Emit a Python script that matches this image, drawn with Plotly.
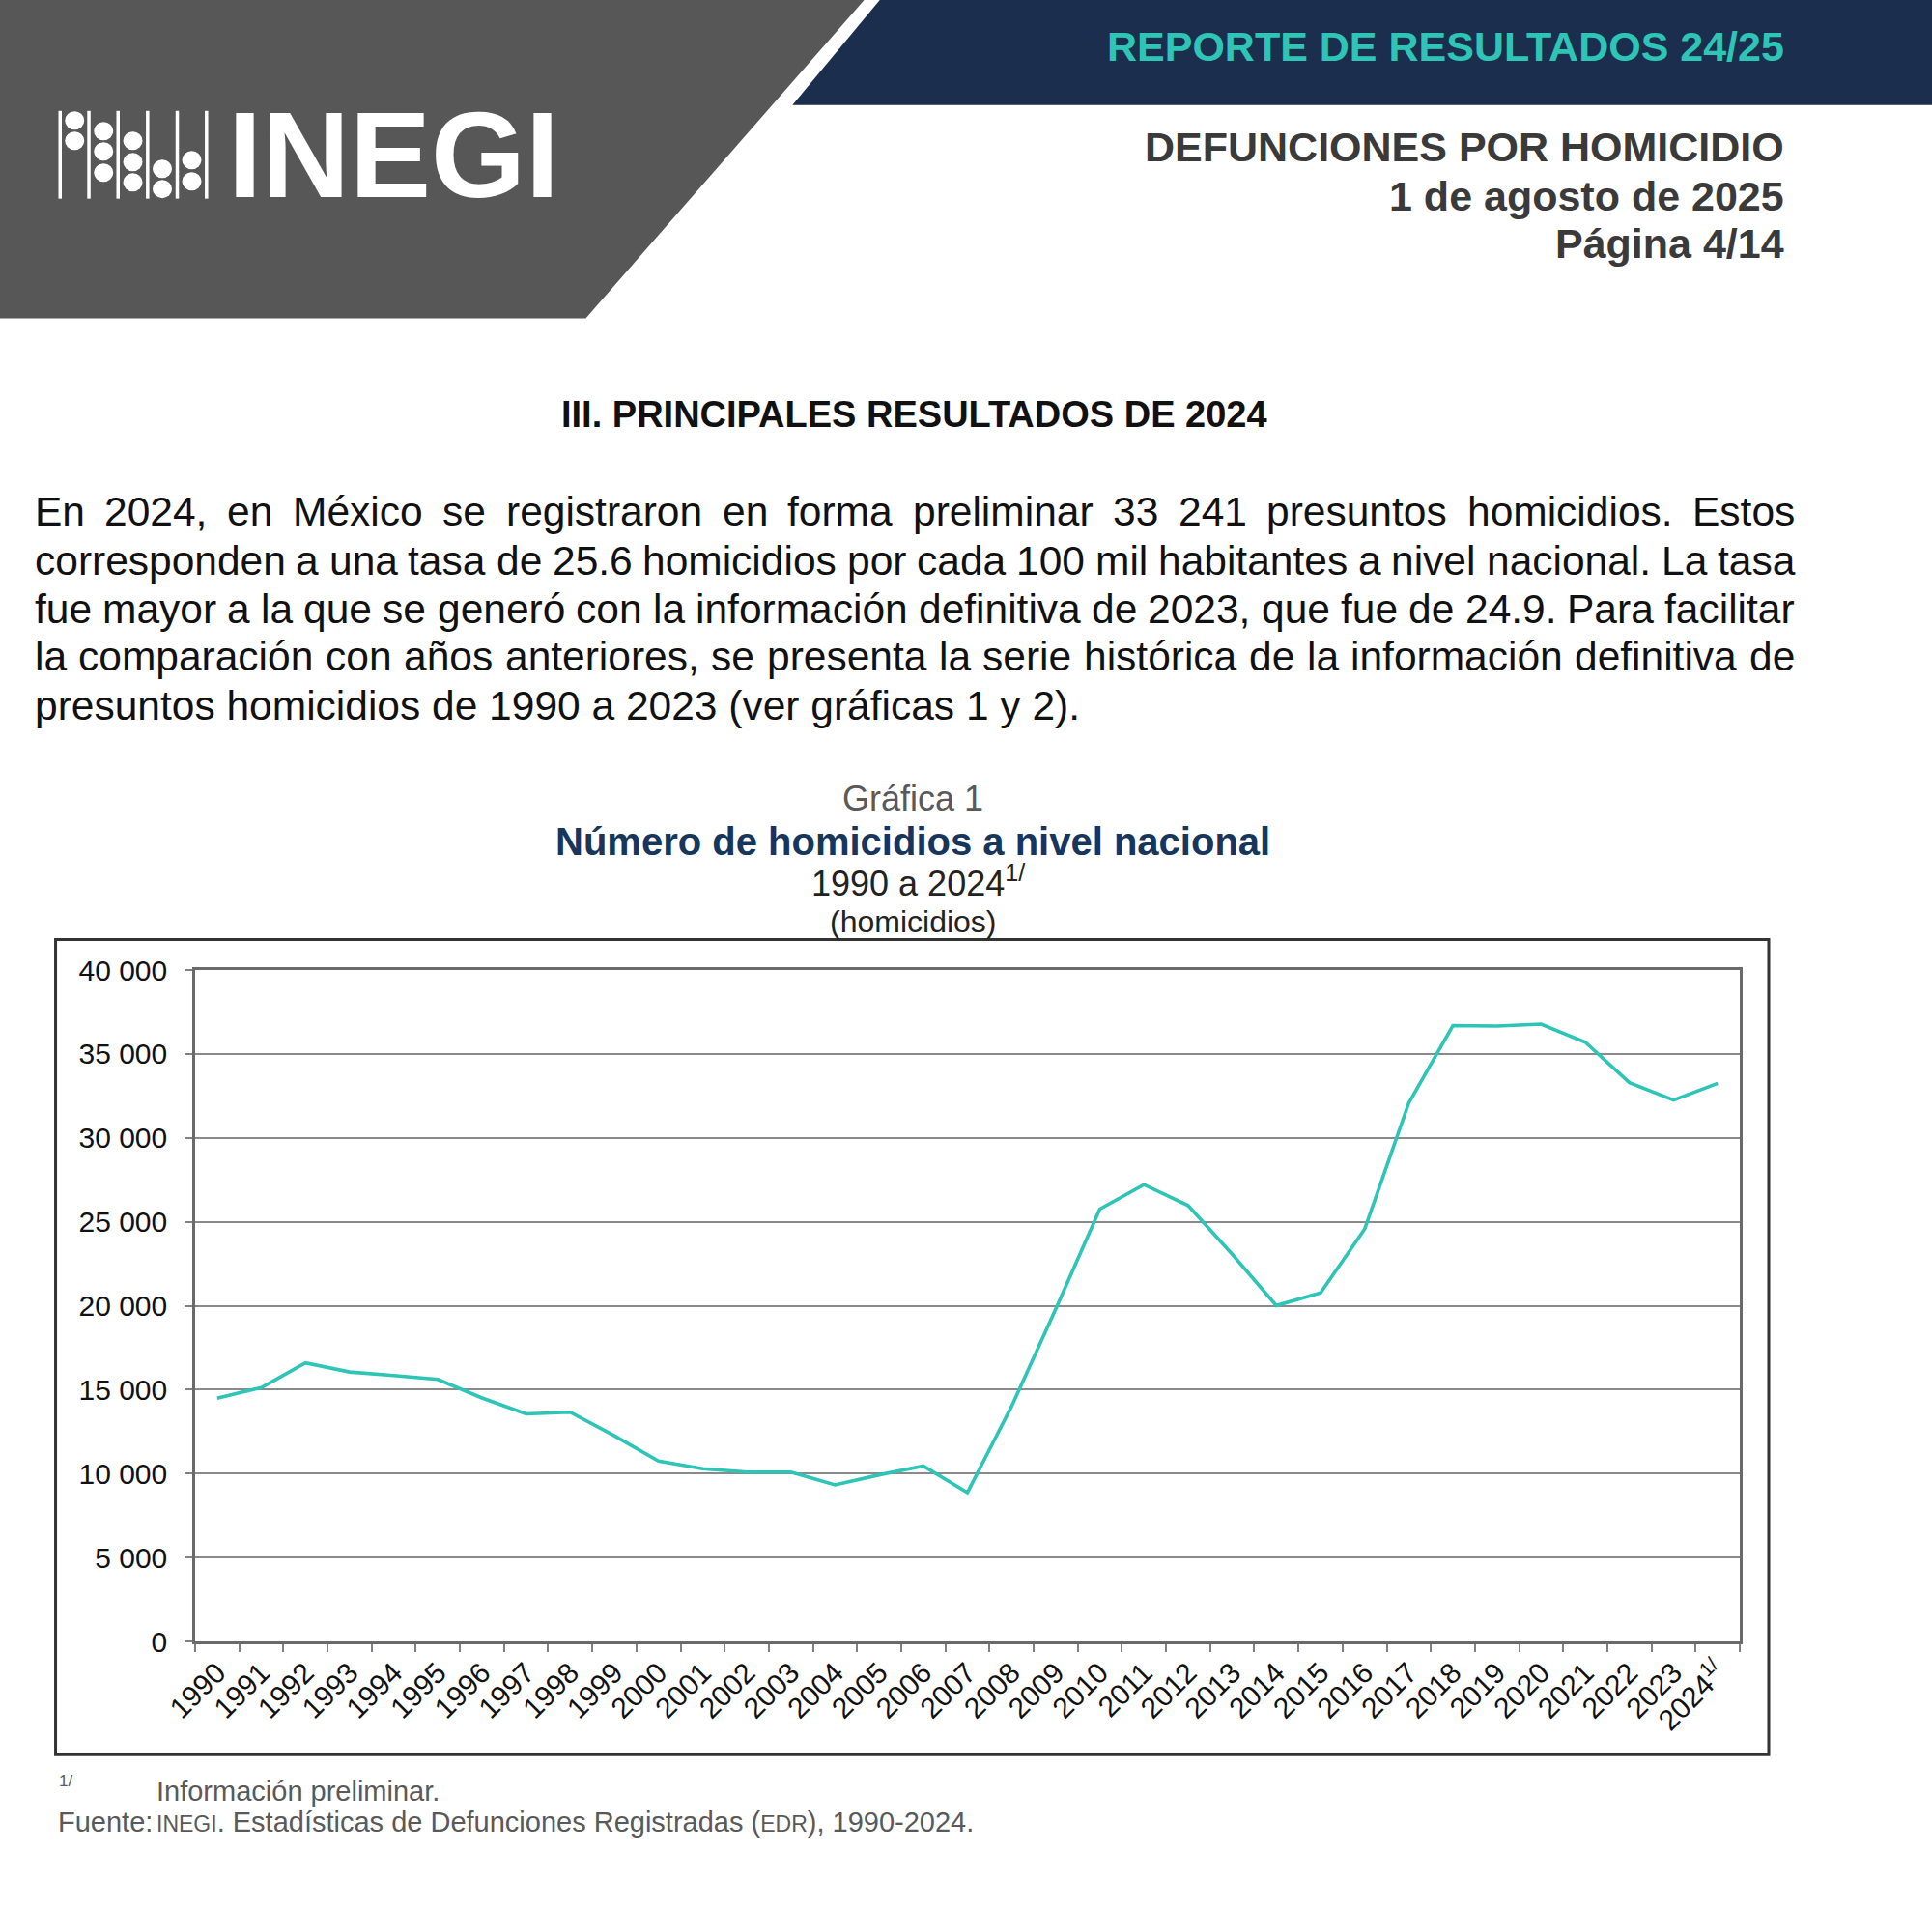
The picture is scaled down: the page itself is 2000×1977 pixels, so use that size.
import plotly.graph_objects as go

# ---------------- data ----------------
years = [str(y) for y in range(1990, 2025)]
year_labels = years[:-1] + ["2024<sup>1/</sup>"]
homicidios = [14493, 15125, 16594, 16050, 15839, 15612, 14505, 13552, 13656, 12249,
              10743, 10285, 10088, 10087, 9329, 9921, 10452, 8867, 14006, 19803,
              25757, 27213, 25967, 23063, 20010, 20762, 24559, 32079, 36685, 36661,
              36773, 35700, 33287, 32252, 33241]
y_ticks = [0, 5000, 10000, 15000, 20000, 25000, 30000, 35000, 40000]

header_lines = ["DEFUNCIONES POR HOMICIDIO", "1 de agosto de 2025", "Página 4/14"]
paragraph = [
    "En 2024, en México se registraron en forma preliminar 33 241 presuntos homicidios. Estos",
    "corresponden a una tasa de 25.6 homicidios por cada 100 mil habitantes a nivel nacional. La tasa",
    "fue mayor a la que se generó con la información definitiva de 2023, que fue de 24.9. Para facilitar",
    "la comparación con años anteriores, se presenta la serie histórica de la información definitiva de",
    "presuntos homicidios de 1990 a 2023 (ver gráficas 1 y 2).",
]

# ---------------- geometry helpers ----------------
W, H = 2000, 1977
L, R, T, B = 201.5, 199, 1003.5, 277.5
PW, PH = W - L - R, H - T - B
DY = -3  # global vertical nudge for text


def px(x):
    return (x - L) / PW


def py(y):
    return (H - B - y) / PH


FONT = "Liberation Sans, Arial, sans-serif"
TEAL = "#2ec4b6"
NAVY = "#1c2e4e"
DARK = "#3a3a3a"
GRAY_TXT = "#595959"

# Arial / Liberation Sans advance widths (1/1000 em)
AW = {' ': 278, ',': 278, '.': 278, '(': 333, ')': 333, '-': 333, '/': 278, ':': 278}
for d in "0123456789":
    AW[d] = 556
AW.update({'A': 667, 'B': 667, 'C': 722, 'D': 722, 'E': 667, 'F': 611, 'G': 778, 'H': 722,
           'I': 278, 'L': 556, 'M': 833, 'N': 722, 'O': 778, 'P': 667, 'R': 722, 'S': 667,
           'T': 611, 'U': 722,
           'a': 556, 'b': 556, 'c': 500, 'd': 556, 'e': 556, 'f': 278, 'g': 556, 'h': 556,
           'i': 222, 'j': 222, 'k': 500, 'l': 222, 'm': 833, 'n': 556, 'o': 556, 'p': 556,
           'q': 556, 'r': 333, 's': 500, 't': 278, 'u': 556, 'v': 500, 'w': 722, 'x': 500,
           'y': 500, 'z': 500, 'á': 556, 'é': 556, 'í': 278, 'ó': 556, 'ú': 556, 'ñ': 556,
           'É': 667})


def tw(s, size):
    return sum(AW.get(c, 556) for c in s) * size / 1000.0


fig = go.Figure()
fig.add_trace(go.Scatter(
    x=years, y=homicidios, mode="lines",
    line=dict(color=TEAL, width=3.6),
    hoverinfo="skip", showlegend=False,
))

shapes = []
annotations = []


def ann(text, x, y, size, color="#000000", xanchor="center", yanchor="middle", bold=False, family=FONT):
    t = f"<b>{text}</b>" if bold else text
    annotations.append(dict(
        text=t, x=px(x), y=py(y + DY), xref="paper", yref="paper",
        xanchor=xanchor, yanchor=yanchor, showarrow=False,
        borderpad=0, borderwidth=0,
        font=dict(family=family, size=size, color=color),
    ))


# ---------------- header ----------------
shapes.append(dict(type="path", xref="paper", yref="paper",
                   path=f"M {px(-5)},{py(-5)} L {px(897)},{py(-5)} L {px(606)},{py(328)} L {px(-5)},{py(328)} Z",
                   fillcolor="#575757", line=dict(width=0), layer="below"))
shapes.append(dict(type="path", xref="paper", yref="paper",
                   path=f"M {px(913)},{py(-5)} L {px(2005)},{py(-5)} L {px(2005)},{py(107)} L {px(820)},{py(107)} Z",
                   fillcolor=NAVY, line=dict(width=0), layer="below"))

# INEGI logo: bars and dots
for lx in [61.7, 91.5, 121.7, 152.3, 183, 213.3]:
    shapes.append(dict(type="line", xref="paper", yref="paper",
                       x0=px(lx), x1=px(lx), y0=py(113), y1=py(204),
                       line=dict(color="white", width=3.5)))
dots = {76.7: [123, 144], 106.7: [134, 155, 177], 137: [144, 166, 187],
        167.5: [173, 194], 198: [164, 186]}
for cx, cys in dots.items():
    for cy in cys:
        shapes.append(dict(type="circle", xref="paper", yref="paper",
                           x0=px(cx - 10), x1=px(cx + 10), y0=py(cy - 9.5), y1=py(cy + 9.5),
                           fillcolor="white", line=dict(width=0)))
ann("INEGI", 236, 162, 126, color="white", xanchor="left", bold=True)

ann("REPORTE DE RESULTADOS 24/25", 1847, 49, 43, color=TEAL, xanchor="right", bold=True)
for i, t in enumerate(header_lines):
    ann(t, 1847, [153, 204, 253][i], 43, color=DARK, xanchor="right", bold=True)

ann("III. PRINCIPALES RESULTADOS DE 2024", 946, 431, 38, color="#111111", bold=True)

# ---------------- justified paragraph ----------------
P_LEFT, P_RIGHT, P_SIZE = 35, 1858, 42.5
line_y = [531, 582, 632, 682, 733]
for i, line in enumerate(paragraph):
    if i == len(paragraph) - 1:
        ann(line, P_LEFT, line_y[i], P_SIZE, color="#111111", xanchor="left")
        continue
    words = line.split(" ")
    widths = [tw(w, P_SIZE) for w in words]
    gap = (P_RIGHT - P_LEFT - sum(widths)) / (len(words) - 1)
    x = P_LEFT
    for w, wd in zip(words, widths):
        ann(w, x, line_y[i], P_SIZE, color="#111111", xanchor="left")
        x += wd + gap

# ---------------- chart titles ----------------
ann("Gráfica 1", 945, 829, 36, color=GRAY_TXT)
ann("Número de homicidios a nivel nacional", 945, 873, 40, color="#17365d", bold=True)
ann("1990 a 2024<sup>1/</sup>", 950, 914, 36, color="#222222")
ann("(homicidios)", 945, 956, 32, color="#222222")

# outer chart box
shapes.append(dict(type="rect", xref="paper", yref="paper",
                   x0=px(57), x1=px(1831), y0=py(972), y1=py(1817),
                   line=dict(color="#333333", width=3), fillcolor="rgba(0,0,0,0)"))

# ---------------- footnotes ----------------
ann("1/", 60, 1847, 17, color=GRAY_TXT, xanchor="left")
ann("Información preliminar.", 161, 1858, 29, color=GRAY_TXT, xanchor="left")
ann("Fuente:", 59, 1890, 29, color=GRAY_TXT, xanchor="left")
ann("<span style='font-size:23px'>INEGI</span>. Estadísticas de Defunciones Registradas "
    "(<span style='font-size:23px'>EDR</span>), 1990-2024.",
    161, 1890, 29, color=GRAY_TXT, xanchor="left")

fig.update_layout(
    width=W, height=H,
    margin=dict(l=L, r=R, t=T, b=B, pad=0),
    paper_bgcolor="white", plot_bgcolor="white",
    separators=". ",
    shapes=shapes, annotations=annotations,
    font=dict(family=FONT, color="#111111"),
    xaxis=dict(
        type="category", categoryorder="array", categoryarray=years,
        range=[-0.5, len(years) - 0.5],
        tickmode="array", tickvals=years, ticktext=year_labels,
        tickangle=-45, tickson="boundaries", ticks="outside", ticklen=8,
        tickcolor="#808080", tickwidth=2,
        showgrid=False, showline=True, mirror=True, linecolor="#6a6a6a", linewidth=2.5,
        tickfont=dict(family=FONT, size=30, color="#111111"),
        fixedrange=True, zeroline=False,
    ),
    yaxis=dict(
        range=[0, 40000], tickmode="array", tickvals=y_ticks, tickformat=",d",
        ticks="outside", ticklen=8, tickcolor="#808080", tickwidth=2,
        showgrid=True, gridcolor="#8a8a8a", gridwidth=2,
        showline=True, mirror=True, linecolor="#6a6a6a", linewidth=2.5,
        zeroline=False, ticklabelstandoff=12,
        tickfont=dict(family=FONT, size=30, color="#111111"),
        fixedrange=True,
    ),
)

fig.write_html("out.html", config={"displayModeBar": False},
               post_script="document.body.style.margin='0';document.body.style.overflow='hidden';")
